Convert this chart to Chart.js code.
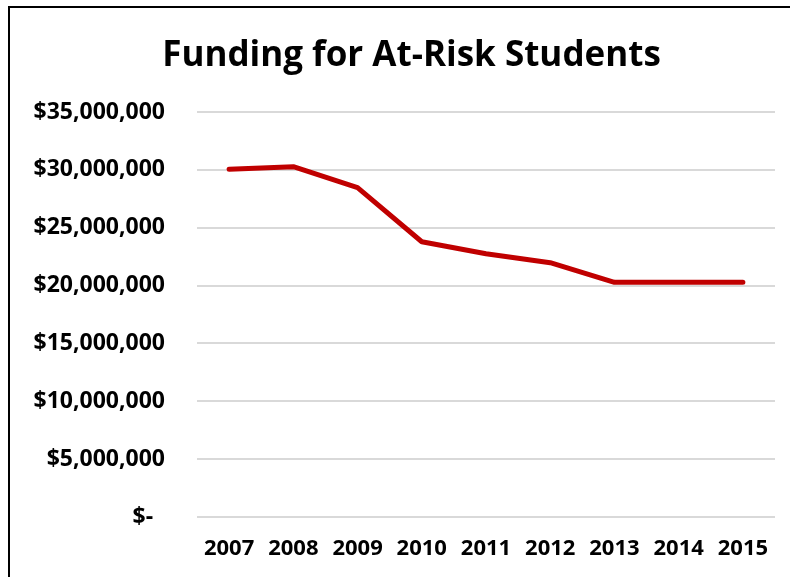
<!DOCTYPE html>
<html>
<head>
<meta charset="utf-8">
<script src="https://cdn.jsdelivr.net/npm/chart.js@4/dist/chart.umd.min.js"></script>
<style>
  html, body { margin: 0; padding: 0; background: #fff; overflow: hidden; }
  #frame {
    position: absolute; left: 8px; top: 6px; width: 2000px; height: 2000px;
    border-left: 2px solid #000; border-top: 2px solid #000;
  }
  /* 图表比窗口宽，右侧被裁掉 */
  #wrap { position: absolute; left: 0; top: 0; width: 823px; height: 577px; }
</style>
</head>
<body>
<div id="frame"></div>
<div id="wrap"><canvas id="fundingChart"></canvas></div>
<script>
// 数据
const years = ['2007', '2008', '2009', '2010', '2011', '2012', '2013', '2014', '2015'];
const funding = [30050000, 30270000, 28460000, 23790000, 22750000, 21980000, 20280000, 20280000, 20280000];
const yTicks = [0, 5000000, 10000000, 15000000, 20000000, 25000000, 30000000, 35000000];

const fontFamily = "'Open Sans', 'Liberation Sans', sans-serif";

function moneyLabel(value) {
    if (value === 0) return '$-  ';
    return '$' + value.toLocaleString('en-US');
}

const ctx = document.getElementById('fundingChart').getContext('2d');
const fundingChart = new Chart(ctx, {
    type: 'line',
    data: {
        labels: years,
        datasets: [{
            label: 'Funding',
            data: funding,
            yAxisID: 'y',
            borderColor: '#c00000',
            borderWidth: 5,
            borderCapStyle: 'round',
            borderJoinStyle: 'round',
            pointRadius: 0,
            pointHoverRadius: 0,
            fill: false,
            tension: 0
        }]
    },
    options: {
        responsive: true,
        maintainAspectRatio: false,
        animation: false,
        layout: { padding: { left: 0, right: 0, top: 0, bottom: 0 } },
        plugins: {
            legend: { display: false },
            tooltip: { enabled: false },
            title: {
                display: true,
                text: 'Funding for At-Risk Students',
                color: '#000',
                font: { family: fontFamily, size: 35, weight: 'bold', lineHeight: 1.2 },
                padding: { top: 35, bottom: 35 }
            }
        },
        scales: {
            y: {
                min: 0,
                max: 35000000,
                afterBuildTicks: function(axis) {
                    axis.ticks = yTicks.map(v => ({ value: v }));
                },
                afterFit: function(axis) { axis.width = 197; },
                border: { display: false },
                grid: { color: '#d9d9d9', lineWidth: 2, drawTicks: false },
                ticks: {
                    padding: 32,
                    color: '#000',
                    font: { family: fontFamily, size: 23, weight: 'bold' },
                    callback: function(value) { return moneyLabel(value); }
                }
            },
            // 右侧空白（无标签）
            yRight: {
                position: 'right',
                min: 0,
                max: 35000000,
                afterFit: function(axis) { axis.width = 48; },
                border: { display: false },
                grid: { display: false, drawTicks: false },
                ticks: { display: false }
            },
            x: {
                offset: true,
                afterFit: function(axis) { axis.height = 60; },
                border: { display: false },
                grid: { display: false, drawTicks: false },
                ticks: {
                    padding: 19,
                    maxRotation: 0,
                    autoSkip: false,
                    color: '#000',
                    font: { family: fontFamily, size: 22, weight: 'bold' }
                }
            }
        }
    }
});
</script>
</body>
</html>
